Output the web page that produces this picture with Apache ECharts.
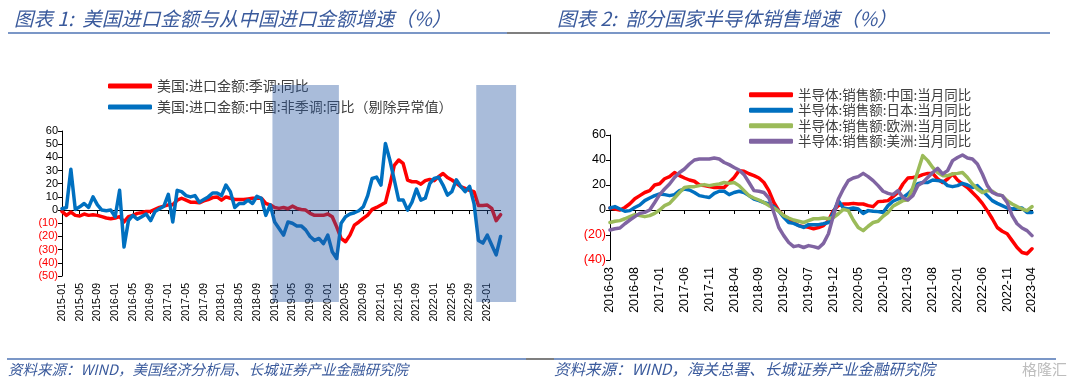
<!DOCTYPE html>
<html><head><meta charset="utf-8">
<script src="https://cdn.jsdelivr.net/npm/echarts@6/dist/echarts.min.js"></script>
<style>html,body{margin:0;padding:0;background:#fff;}#c{width:1080px;height:387px;}</style>
</head><body><div id="c"></div>
<script>
function monthRange(start, end) {
  const out = [];
  let [y, m] = start.split('-').map(Number);
  const [ey, em] = end.split('-').map(Number);
  while (y < ey || (y === ey && m <= em)) {
    out.push(y + '-' + (m < 10 ? '0' + m : m));
    m++; if (m > 12) { m = 1; y++; }
  }
  return out;
}

// ---- Chart 1 data ----
const months1 = monthRange('2015-01', '2023-04');
const shadeMonths = monthRange('2015-01', '2023-07');
const shadeRanges = [['2019-01', '2020-03'], ['2022-11', '2023-07']];
const usImports = [-1,-4,-1.5,-4,-4.5,-3,-4,-3.5,-4,-5,-6,-6.5,-6,-5,-9,-5,-4,-2.5,-2,-1,
  -1,0.5,2,3,4,4,7.5,9,7.5,6,6,5.5,7,8,9.5,10,7.5,10,9,8,
  8,8,8.5,9,9,9,5,4,2,1.3,2,1,3,1.3,0.5,0,-2.5,-4,-4,-4,
  -3,-5,-12.7,-21.5,-24,-19,-11.4,-9,-6.3,-3.8,0.5,2,3.8,5.7,19,34,38,35.4,22.8,21.5,
  21.5,19.7,22.3,23.3,22.3,25.3,27.8,24.7,22.8,20.5,17.7,16.5,15,14,3.5,3.5,3.8,1.3,-8,-3.5];
const chinaImports = [1,2,31,0.5,2.5,5,2,10,4,0,-0.5,0,-5,15,-28,-8,-4,-7,-5,-3,
  -8,-1,1,3,12,-9,15,14,11,10,11,6,8,10,13,13,11,19,14,2,
  5,5,7.5,5,10.5,9,-4,4,-9,-14,-19,-9,-10,-12,-12,-15,-20,-23,-21.5,-25.5,
  -19,-31.6,-36.7,-10,-5,-3,-2,-0.5,2.5,11,24,25,19,50.6,38,23,7.6,7.6,0,6,
  16,7.6,9,20,24,25,19,11.4,14,23,18,14,18,5,-23,-25,-19,-26.5,-34,-20];

// ---- Chart 2 data ----
const months2 = monthRange('2016-03', '2023-04');
const semiChina = [1.6,0.8,0,2,5,9,11.5,14,15.5,20,21,25,26.7,30,27.5,25.6,24,23,20,19.5,
  18.7,18,18,18,22,26,31.5,31,29,27.5,25.6,22,15.5,6,-0.5,-4.5,-7,-10,-12.5,-13.3,
  -13.9,-15,-14,-12.5,-8.5,-0.5,3.5,4.8,4.8,5.3,4.8,4.8,3.5,2.7,6.7,7,7.5,10.7,14,20.8,
  25.6,26,26.7,28.3,29.3,29.3,24.8,22,24.8,28.8,24,20.8,18,14,10,5.3,-0.5,-7,-14,-17,
  -19,-24.5,-30,-34,-35,-31];
const semiJapan = [1.6,2.7,0.8,-1,-0.5,2,4,7.5,9.6,11.5,12.8,12.3,11.5,12.3,15.5,16.8,16,14,11.5,10.7,
  10,13.3,15,15,12.3,14,15,14,11.5,8.8,7.5,6,4.8,2.7,-1,-5.9,-10,-10.7,-12.5,-13.9,
  -11.7,-11.7,-11.7,-11,-10,-2,7.5,1.6,0.8,1.6,0.8,-2.7,-0.5,-1,-1.3,-2,3.5,7,8.8,10,
  12.8,16.8,21,22,22,24,23.5,23,19.5,18.7,19.5,21.3,20,18,19.5,15.5,11.5,7.5,5.3,3.5,
  1.6,0.8,1.6,1.6,-2,-2];
const semiEurope = [-10,-9,-8.5,-7,-5.3,-3.7,-4.5,-5.3,-4.5,-2.7,0,3.5,5.3,9.6,14,18,18.7,18.7,19.5,20.3,
  19.5,20.3,20.8,22,21.3,22,19.5,15.5,11.5,9.6,8,6,3.5,1.6,-1,-4.5,-6.4,-8,-9,-10,
  -8.5,-7,-7,-6.4,-7,-6,-3,0.5,-0.5,-8,-14,-16.5,-13,-10,-9,-5,-2,3,5.3,7.5,
  8,18,31,43.5,39.5,34,30,27.5,27.5,28.8,29.3,30,26,20.8,16.8,14,15.5,15,12.3,11.5,
  7.5,4.8,2.7,0.8,-0.5,2.7];
const semiAmericas = [-16,-15,-14.4,-11,-8,-5.3,-2.7,-1.9,0,6,12.3,16.8,20.8,26,30,32.8,36.8,40,40.8,40.8,
  40.8,41.6,40.8,38,36.3,34,32,28.3,22,15.5,15,14,9.6,-2,-14,-20.5,-26,-29.3,-28.5,-30,
  -28.5,-29.3,-30.4,-26.7,-19,-4.5,8.8,16.8,23.5,25.6,26.7,29.3,26.7,23.5,19.5,15,13.3,12.3,15.5,10,
  8,11.5,19.5,22,26,30,33.3,28.8,31.5,39.5,42,44,41.6,40.8,36.8,28.8,19.5,14,12.3,11.5,
  6,-4.5,-11,-14.4,-16.5,-20.5];

const names1 = ['美国:进口金额:季调:同比', '美国:进口金额:中国:非季调:同比（剔除异常值）'];
const names2 = ['半导体:销售额:中国:当月同比', '半导体:销售额:日本:当月同比', '半导体:销售额:欧洲:当月同比', '半导体:销售额:美洲:当月同比'];
const titles = ['图表 1:  美国进口金额与从中国进口金额增速（%）', '图表 2:  部分国家半导体销售增速（%）'];
const sources = ['资料来源：WIND，美国经济分析局、长城证券产业金融研究院', '资料来源：WIND，海关总署、长城证券产业金融研究院'];

const NUM = 'Liberation Sans';
const CJK = 'Noto Sans CJK SC';
const fmtNeg = v => (v < 0 ? '(' + (-v) + ')' : String(v));
const colNeg = v => (Number(v) < 0 ? '#ff0000' : '#000000');

function yAxisCfg(grid, min, max, interval, fs) {
  return { type: 'value', gridIndex: grid, min, max, interval,
    axisLine: { show: true, lineStyle: { color: '#000', width: 1 } },
    axisTick: { show: true, length: 4, lineStyle: { color: '#000' } },
    splitLine: { show: false },
    axisLabel: { formatter: fmtNeg, color: colNeg, fontSize: fs, fontFamily: NUM, margin: 4 } };
}
function xLabelAxis(grid, data, interval, fs, margin) {
  return { type: 'category', gridIndex: grid, data, boundaryGap: false, position: 'bottom',
    axisLine: { show: false, onZero: false }, axisTick: { show: false },
    axisLabel: { rotate: 90, interval, fontSize: fs, fontFamily: NUM, color: '#000', margin } };
}
function xZeroAxis(grid, data, interval) {
  return { type: 'category', gridIndex: grid, data, boundaryGap: false, position: 'bottom',
    axisLine: { show: true, onZero: true, lineStyle: { color: '#000', width: 1 } },
    axisTick: { show: true, interval, length: 4, lineStyle: { color: '#000' } },
    axisLabel: { show: false } };
}
function lineSeries(name, data, color, xi, yi) {
  return { type: 'line', name, data, xAxisIndex: xi, yAxisIndex: yi, symbol: 'none', smooth: false,
    lineStyle: { color, width: 3.5, cap: 'round', join: 'round' }, itemStyle: { color }, z: 2,
    emphasis: { disabled: true } };
}

const shadeData = shadeRanges.map(r => [shadeMonths.indexOf(r[0]), shadeMonths.indexOf(r[1])]);

const chart = echarts.init(document.getElementById('c'), null, { renderer: 'canvas' });
chart.setOption({
  animation: false,
  backgroundColor: '#ffffff',
  title: [
    { text: titles[0], left: 9, top: 4, textStyle: { fontSize: 19.5, fontStyle: 'italic', fontWeight: 'normal', color: '#3a5a9c', fontFamily: CJK } },
    { text: titles[1], left: 552, top: 4, textStyle: { fontSize: 19.5, fontStyle: 'italic', fontWeight: 'normal', color: '#3a5a9c', fontFamily: CJK } }
  ],
  legend: [
    { orient: 'vertical', left: 103, top: 74, itemWidth: 44, itemHeight: 5, itemGap: 7, icon: 'roundRect',
      textStyle: { fontSize: 14, color: '#404040', fontFamily: CJK }, data: names1, selectedMode: false },
    { orient: 'vertical', left: 744, top: 83, itemWidth: 44, itemHeight: 5, itemGap: 2, icon: 'roundRect',
      textStyle: { fontSize: 13.5, color: '#404040', fontFamily: CJK }, data: names2, selectedMode: false }
  ],
  grid: [
    { left: 62, right: 579.4, top: 131, bottom: 111, containLabel: false },
    { left: 59.8, right: 563.9, top: 85, bottom: 85, containLabel: false },
    { left: 610, right: 48, top: 135, bottom: 127, containLabel: false }
  ],
  xAxis: [
    xLabelAxis(0, months1, 3, 10.5, 7),
    xZeroAxis(0, months1, 3),
    { type: 'category', gridIndex: 1, data: shadeMonths, boundaryGap: true, show: false },
    xLabelAxis(2, months2, 4, 12.5, 7),
    xZeroAxis(2, months2, 4)
  ],
  yAxis: [
    yAxisCfg(0, -50, 60, 10, 11),
    { type: 'value', gridIndex: 1, min: 0, max: 1, show: false },
    yAxisCfg(2, -40, 60, 20, 12.5)
  ],
  series: [
    lineSeries(names1[0], usImports, '#ff0000', 0, 0),
    lineSeries(names1[1], chinaImports, '#0070c0', 0, 0),
    { type: 'custom', xAxisIndex: 2, yAxisIndex: 1, silent: true, z: 5,
      data: shadeData,
      encode: { x: [0, 1] },
      renderItem: function (params, api) {
        const s = api.coord([api.value(0), 1]);
        const e = api.coord([api.value(1), 0]);
        const bw = api.size([1, 0])[0];
        return { type: 'rect', shape: { x: s[0] - bw / 2, y: s[1], width: e[0] - s[0] + bw, height: e[1] - s[1] },
          style: { fill: 'rgba(40,88,162,0.4)' } };
      } },
    lineSeries(names2[0], semiChina, '#ff0000', 3, 2),
    lineSeries(names2[1], semiJapan, '#0070c0', 3, 2),
    lineSeries(names2[2], semiEurope, '#9bbb59', 3, 2),
    lineSeries(names2[3], semiAmericas, '#8064a2', 3, 2)
  ],
  graphic: [
    { type: 'line', shape: { x1: 8, y1: 33, x2: 507, y2: 33 }, style: { stroke: '#4f74b4', lineWidth: 1.5 } },
    { type: 'line', shape: { x1: 507, y1: 33, x2: 550, y2: 33 }, style: { stroke: '#555555', lineWidth: 1.5 } },
    { type: 'line', shape: { x1: 550, y1: 33, x2: 1050, y2: 33 }, style: { stroke: '#4f74b4', lineWidth: 1.5 } },
    { type: 'line', shape: { x1: 7, y1: 359, x2: 526, y2: 359 }, style: { stroke: '#4f74b4', lineWidth: 1.5 } },
    { type: 'line', shape: { x1: 526, y1: 359, x2: 554, y2: 359 }, style: { stroke: '#555555', lineWidth: 1.5 } },
    { type: 'line', shape: { x1: 554, y1: 359, x2: 1056, y2: 359 }, style: { stroke: '#4f74b4', lineWidth: 1.5 } },
    { type: 'text', left: 8, top: 362, style: { text: sources[0], font: 'italic 14.5px "Noto Sans CJK SC"', fill: '#3a5a9c' } },
    { type: 'text', left: 554, top: 361, style: { text: sources[1], font: 'italic 15.5px "Noto Sans CJK SC"', fill: '#3a5a9c' } },
    { type: 'text', left: 1022, top: 362, style: { text: '格隆汇', font: '15px "Noto Sans CJK SC"', fill: '#bdbdbd' } }
  ]
});
</script></body></html>
